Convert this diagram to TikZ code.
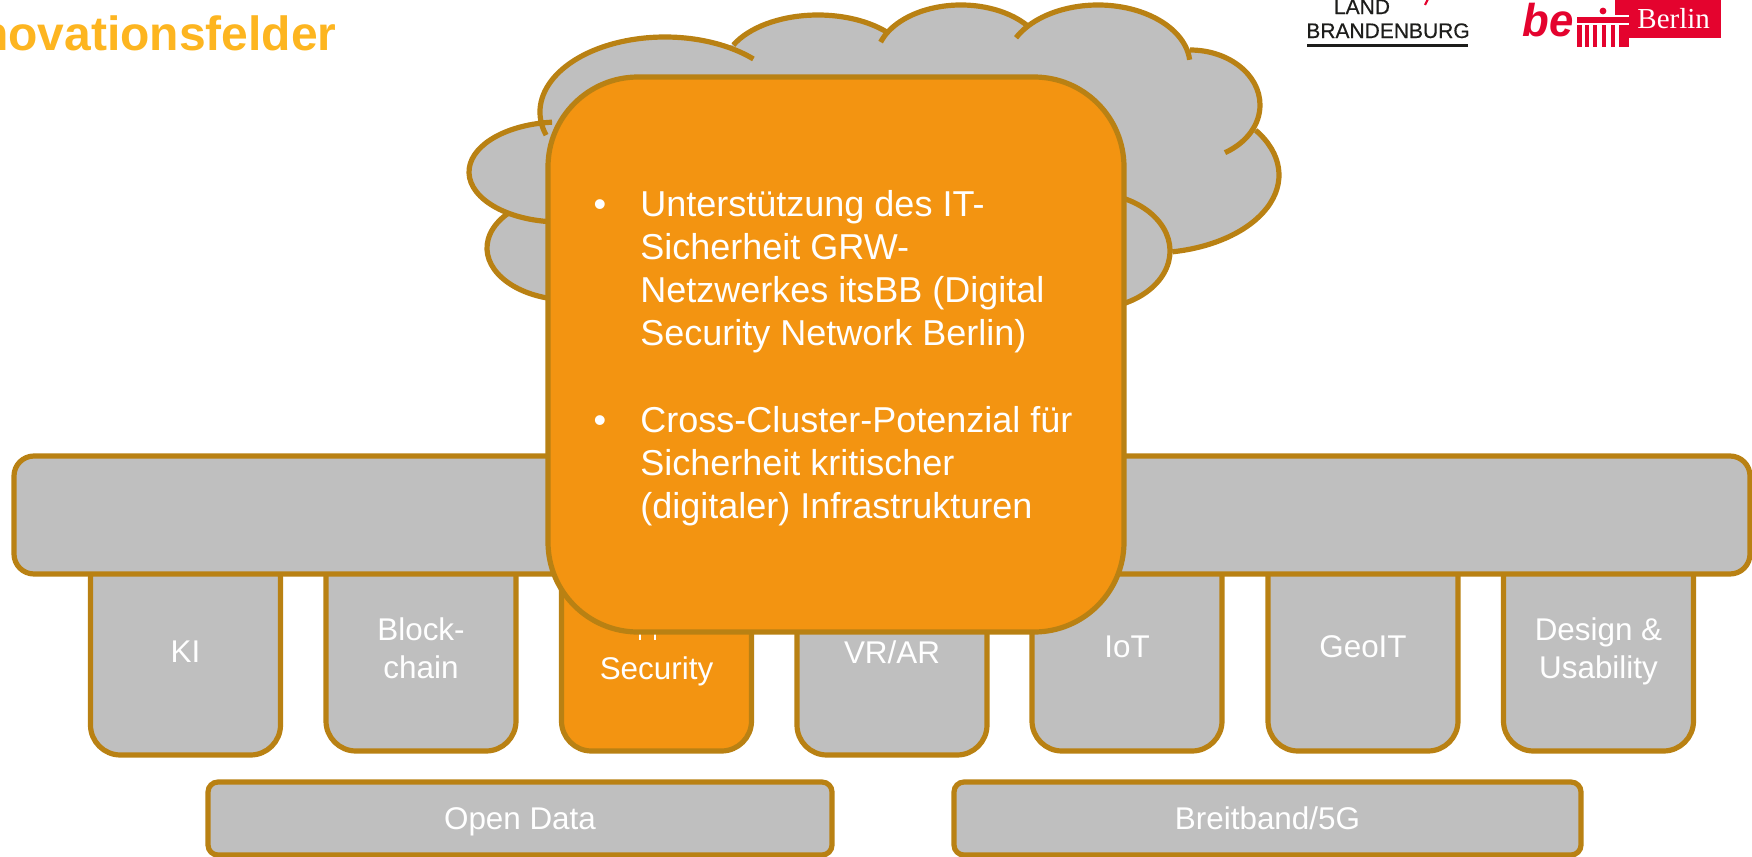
\documentclass[tikz,border=0pt]{standalone}
\usepackage{fontspec}
\setmainfont{Liberation Sans}
\newfontfamily\serifface{Liberation Serif}
\newfontfamily\logoface[FakeBold=0.5]{Liberation Sans}
\definecolor{boxgray}{HTML}{BFBFBF}
\definecolor{boxorange}{HTML}{F39411}
\definecolor{edgegold}{HTML}{B98113}
\definecolor{titlegold}{HTML}{FDB520}
\definecolor{logored}{HTML}{E4032E}
\definecolor{logoink}{HTML}{1D1D1B}
\newcommand\lobeA{(665,112) ++(162:125 and 75) arc[start angle=162,end angle=315,x radius=125,y radius=75]}
\newcommand\lobeB{(818,70) ++(207:95 and 55) arc[start angle=207,end angle=316,x radius=95,y radius=55]}
\newcommand\lobeC{(961,60) ++(199:85 and 55) arc[start angle=199,end angle=321,x radius=85,y radius=55]}
\newcommand\lobeD{(1098,65) ++(207:92 and 60) arc[start angle=207,end angle=355,x radius=92,y radius=60]}
\newcommand\lobeE{(1190,105) ++(270:70 and 55) arc[start angle=270,end angle=420,x radius=70,y radius=55]}
\newcommand\lobeF{(1150,175) ++(-35:129 and 78) arc[start angle=-35,end angle=80,x radius=129,y radius=78]}
\newcommand\lobeG{(1090,251) ++(-68:80 and 58) arc[start angle=-68,end angle=68,x radius=80,y radius=58]}
\newcommand\lobeH{(570,248) ++(100:83 and 52) arc[start angle=100,end angle=223,x radius=83,y radius=52]}
\newcommand\lobeI{(560,172) ++(95:91 and 50) arc[start angle=95,end angle=265,x radius=91,y radius=50]}
\newcommand\lift[1]{\rule{0pt}{#1}}
\tikzset{
  x=0.5pt,y=-0.5pt,
  shapebox/.style={draw=edgegold,line width=2.6pt,fill=boxgray,rounded corners=15pt,
    outer sep=0pt,inner sep=0pt,text=white,align=center,text depth=0pt,
    font=\fontsize{15.7}{19}\selectfont},
  pillar/.style={shapebox,minimum width=95pt},
  longpillar/.style={pillar,minimum height=103pt},
  shortpillar/.style={pillar,minimum height=104pt},
  basebox/.style={shapebox,rounded corners=5pt,minimum height=36.5pt},
  cloudfill/.style={fill=boxgray,draw=boxgray,line width=1.6pt,line join=round},
  cloudline/.style={draw=edgegold,line width=2.6pt},
  calloutbody/.style={font=\fontsize{18}{21.5}\selectfont,text=white,align=left,inner sep=0pt},
  logotext/.style={inner sep=0pt,text=logoink,font=\fontsize{10.5}{12}\logoface},
}
\begin{document}
\begin{tikzpicture}
\useasboundingbox (0,0) rectangle (1752,857);
\clip (0,0) rectangle (1752,857);
% cloud
\path[cloudfill] (549,135)--(600,62)--(735,46)--(884,33)--(885,42)--(1024,28)--(1016,40)--(1188,60)--(1190,53)--(1225,150)--(1250,134)--(1172,250)--(1123,298)--(555,294)--(513,214)--(546,130)--cycle;
\foreach \lobe in {\lobeA,\lobeB,\lobeC,\lobeD,\lobeE,\lobeF,\lobeG,\lobeH,\lobeI}{\path[cloudfill] \lobe -- cycle;}
\foreach \lobe in {\lobeA,\lobeB,\lobeC,\lobeD,\lobeE,\lobeF,\lobeG,\lobeH,\lobeI}{\draw[cloudline] \lobe;}
% title
\node[anchor=base east,inner sep=0pt,text=titlegold,font=\fontsize{24}{28}\selectfont\bfseries] (title) at (337,50) {novationsfelder};
% pillars
\node[longpillar] (ki) at (185.5,652) {KI};
\node[shortpillar] (block) at (421,647) {\lift{12.6pt}Block-\\chain};
\node[shortpillar,fill=boxorange] (sec) at (656.5,647) {\lift{13.4pt}\\Security};
\node[longpillar] (vr) at (892,652) {VR/AR};
\node[shortpillar] (iot) at (1127,647) {IoT};
\node[shortpillar] (geo) at (1363,647) {GeoIT};
\node[shortpillar] (design) at (1598.5,647) {\lift{12.8pt}Design \&\\Usability};
\draw[white,line width=1.1pt] (640,630)--(640,640) (655,630)--(655,640);
% bar
\node[shapebox,rounded corners=10pt,minimum width=868pt,minimum height=59pt] (bar) at (882,515) {};
% bottom boxes
\node[basebox,minimum width=312pt] (open) at (520,818.5) {Open Data};
\node[basebox,minimum width=313.5pt] (band) at (1267.5,818.5) {Breitband/5G};
% callout
\node[shapebox,fill=boxorange,rounded corners=45pt,minimum width=288pt,minimum height=277.5pt] (callout) at (836,354.5) {};
\node[calloutbody,anchor=base] (bulleta) at (600,216) {•};
\node[calloutbody,anchor=base] (bulletb) at (600,432) {•};
\node[calloutbody,anchor=north west] (parta) at (640,190) {Unterstützung des IT-\\Sicherheit GRW-\\Netzwerkes itsBB (Digital\\Security Network Berlin)};
\node[calloutbody,anchor=north west] (partb) at (640,406) {Cross-Cluster-Potenzial für\\Sicherheit kritischer\\(digitaler) Infrastrukturen};
% Brandenburg logo
\node[logotext,anchor=base] (land) at (1362,14) {LAND};
\node[logotext,anchor=base] (bb) at (1388,38) {BRANDENBURG};
\fill[logoink] (1307,44) rectangle (1468,47.3);
\draw[logored,line width=1.1pt] (1428,-1) -- (1425,5);
% Berlin logo
\fill[logored] (1615,-1) rectangle (1721,14.5);
\fill[logored] (1629,-1) rectangle (1721,38);
\fill[logored] (1577,17) rectangle (1629,22.5);
\foreach \xa/\xb in {1577/1582,1585/1589,1593/1597,1602/1606,1611/1615,1619/1629}{\fill[logored] (\xa,25) rectangle (\xb,47);}
\fill[logored] (1603,11) circle (1.7pt);
\node[anchor=base west,inner sep=0pt,text=logored,font=\fontsize{23}{25}\selectfont\bfseries\itshape] (belogo) at (1522,36) {\scalebox{0.95}[1]{be}};
\node[anchor=base west,inner sep=0pt,text=white,font=\fontsize{14.5}{16}\serifface] (berlin) at (1637,28) {Berlin};
\end{tikzpicture}
\end{document}
